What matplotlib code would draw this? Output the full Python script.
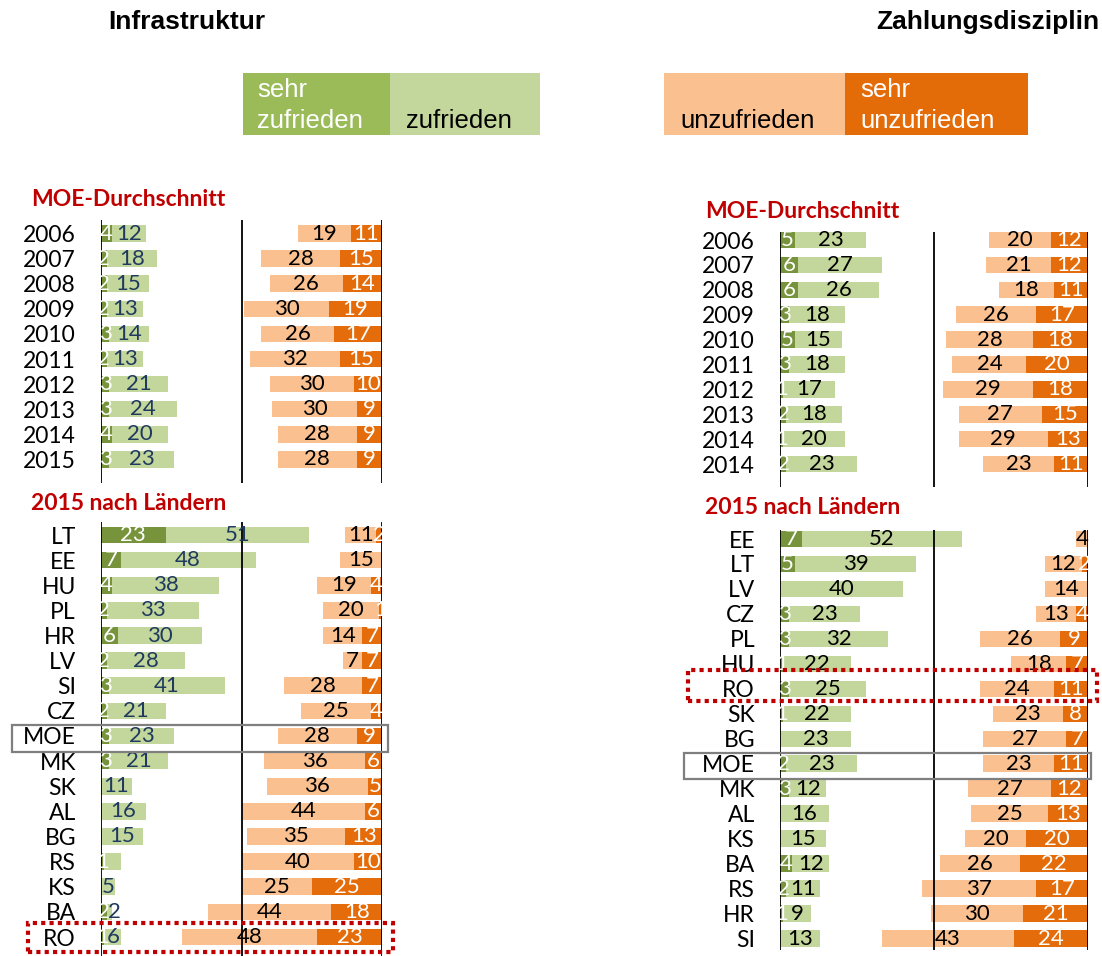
import matplotlib
matplotlib.use("Agg")
import matplotlib.pyplot as plt
from matplotlib.patches import Rectangle

W, H = 1102, 956
DPI = 100

# ---------------- data ----------------
years_l = ["2006", "2007", "2008", "2009", "2010", "2011", "2012", "2013", "2014", "2015"]
infra_avg_sz = [4, 2, 2, 2, 3, 2, 3, 3, 4, 3]
infra_avg_z = [12, 18, 15, 13, 14, 13, 21, 24, 20, 23]
infra_avg_u = [19, 28, 26, 30, 26, 32, 30, 30, 28, 28]
infra_avg_su = [11, 15, 14, 19, 17, 15, 10, 9, 9, 9]

countries_l = ["LT", "EE", "HU", "PL", "HR", "LV", "SI", "CZ", "MOE", "MK", "SK", "AL",
               "BG", "RS", "KS", "BA", "RO"]
infra_c_sz = [23, 7, 4, 2, 6, 2, 3, 2, 3, 3, 0, 0, 0, 1, 0, 2, 1]
infra_c_z = [51, 48, 38, 33, 30, 28, 41, 21, 23, 21, 11, 16, 15, 6, 5, 2, 6]
infra_c_u = [11, 15, 19, 20, 14, 7, 28, 25, 28, 36, 36, 44, 35, 40, 25, 44, 48]
infra_c_su = [2, 0, 4, 1, 7, 7, 7, 4, 9, 6, 5, 6, 13, 10, 25, 18, 23]
infra_c_hidden_z = ["RS"]  # label not shown in the reference

years_r = ["2006", "2007", "2008", "2009", "2010", "2011", "2012", "2013", "2014", "2014"]
pay_avg_sz = [5, 6, 6, 3, 5, 3, 1, 2, 1, 2]
pay_avg_z = [23, 27, 26, 18, 15, 18, 17, 18, 20, 23]
pay_avg_u = [20, 21, 18, 26, 28, 24, 29, 27, 29, 23]
pay_avg_su = [12, 12, 11, 17, 18, 20, 18, 15, 13, 11]

countries_r = ["EE", "LT", "LV", "CZ", "PL", "HU", "RO", "SK", "BG", "MOE", "MK", "AL",
               "KS", "BA", "RS", "HR", "SI"]
pay_c_sz = [7, 5, 0, 3, 3, 1, 3, 1, 0, 2, 3, 0, 0, 4, 2, 1, 0]
pay_c_z = [52, 39, 40, 23, 32, 22, 25, 22, 23, 23, 12, 16, 15, 12, 11, 9, 13]
pay_c_u = [4, 12, 14, 13, 26, 18, 24, 23, 27, 23, 27, 25, 20, 26, 37, 30, 43]
pay_c_su = [0, 2, 0, 4, 9, 7, 11, 8, 7, 11, 12, 13, 20, 22, 17, 21, 24]

# ---------------- style ----------------
C_SZ = "#77933C"
C_Z = "#C3D69B"
C_U = "#FAC090"
C_SU = "#E46C0A"
C_LEG_SZ = "#9BBB59"
C_LEG_SU = "#E36C09"
RED = "#C00000"
NAVY = "#1F3A5F"
NUMFONT = "Lato"
ARIAL = "Liberation Sans"
NUMSIZE = 16
ROWSIZE = 16.5

fig = plt.figure(figsize=(W / DPI, H / DPI), dpi=DPI)


def fx(x):
    return x / W


def fy(y):
    return 1 - y / H


def panel(x0, x1, y0, y1, row0, step, labels, sz, z, u, su, zcolor, hidden_z=()):
    ax = fig.add_axes([fx(x0), fy(y1), (x1 - x0) / W, (y1 - y0) / H])
    n = len(labels)
    rows = list(range(n))
    ax.set_xlim(0, 100)
    top = (y0 - row0) / step
    bot = (y1 - row0) / step
    ax.set_ylim(bot, top)
    bh = 0.66
    ax.barh(rows, sz, left=0, height=bh, color=C_SZ, zorder=2)
    ax.barh(rows, z, left=sz, height=bh, color=C_Z, zorder=2)
    left_su = [100 - v for v in su]
    left_u = [100 - a - b for a, b in zip(su, u)]
    ax.barh(rows, u, left=left_u, height=bh, color=C_U, zorder=2)
    ax.barh(rows, su, left=left_su, height=bh, color=C_SU, zorder=2)
    for xv in (0, 50, 100):
        ax.axvline(xv, color="black", lw=1.3, zorder=3)
    for i in rows:
        if sz[i] > 0:
            ax.text(sz[i] / 2, i, str(sz[i]), ha="center", va="center", color="white",
                    fontsize=NUMSIZE, family=NUMFONT, zorder=4)
        if z[i] > 0 and labels[i] not in hidden_z:
            zx = sz[i] + z[i] / 2
            if sz[i] > 0:
                zx = max(zx, sz[i] / 2 + 3.8)
            ax.text(zx, i, str(z[i]), ha="center", va="center", color=zcolor,
                    fontsize=NUMSIZE, family=NUMFONT, zorder=4)
        if u[i] > 0:
            ax.text(left_u[i] + u[i] / 2, i, str(u[i]), ha="center", va="center", color="black",
                    fontsize=NUMSIZE, family=NUMFONT, zorder=4)
        if su[i] > 0:
            ax.text(100 - su[i] / 2, i, str(su[i]), ha="center", va="center", color="white",
                    fontsize=NUMSIZE, family=NUMFONT, zorder=4)
    ax.set_yticks(rows)
    ax.set_yticklabels(labels, fontsize=ROWSIZE, family=NUMFONT)
    ax.tick_params(axis="y", length=0, pad=18)
    ax.set_xticks([])
    for s in ax.spines.values():
        s.set_visible(False)
    ax.patch.set_alpha(0)
    return ax


panel(101, 382, 220, 483, 233.5, 25.1, years_l, infra_avg_sz, infra_avg_z,
      infra_avg_u, infra_avg_su, NAVY)
panel(101, 382, 522, 956, 535, 25.125, countries_l, infra_c_sz, infra_c_z,
      infra_c_u, infra_c_su, NAVY, infra_c_hidden_z)
panel(780, 1088, 232, 487, 240, 24.9, years_r, pay_avg_sz, pay_avg_z,
      pay_avg_u, pay_avg_su, "black")
panel(780, 1088, 530, 950, 539, 24.97, countries_r, pay_c_sz, pay_c_z,
      pay_c_u, pay_c_su, "black")

# ---------------- titles & headers ----------------
fig.text(fx(108), fy(22), "Infrastruktur", ha="left", va="center", fontsize=19,
         fontweight="bold", family=ARIAL)
fig.text(fx(1099), fy(22), "Zahlungsdisziplin", ha="right", va="center", fontsize=19,
         fontweight="bold", family=ARIAL)
for x, y, t in [(31, 199, "MOE-Durchschnitt"), (31, 503, "2015 nach Ländern"),
                (705, 212, "MOE-Durchschnitt"), (705, 508, "2015 nach Ländern")]:
    fig.text(fx(x), fy(y), t, ha="left", va="center", fontsize=16.5, fontweight="bold",
             color=RED, family=NUMFONT)

# ---------------- legend boxes ----------------
def box(x0, x1, y0, y1, color):
    fig.patches.append(Rectangle((fx(x0), fy(y1)), (x1 - x0) / W, (y1 - y0) / H,
                                 transform=fig.transFigure, facecolor=color,
                                 edgecolor="none", zorder=1))


box(243, 390, 73, 135, C_LEG_SZ)
box(390, 540, 73, 135, C_Z)
box(664, 845, 73, 135, C_U)
box(845, 1028, 73, 135, C_LEG_SU)
LEG = 18.5
fig.text(fx(257), fy(97), "sehr", ha="left", va="baseline", fontsize=LEG, color="white", family=ARIAL)
fig.text(fx(257), fy(128), "zufrieden", ha="left", va="baseline", fontsize=LEG, color="white", family=ARIAL)
fig.text(fx(406), fy(128), "zufrieden", ha="left", va="baseline", fontsize=LEG, color="black", family=ARIAL)
fig.text(fx(680), fy(128), "unzufrieden", ha="left", va="baseline", fontsize=LEG, color="black", family=ARIAL)
fig.text(fx(860), fy(97), "sehr", ha="left", va="baseline", fontsize=LEG, color="white", family=ARIAL)
fig.text(fx(860), fy(128), "unzufrieden", ha="left", va="baseline", fontsize=LEG, color="white", family=ARIAL)

# ---------------- highlight frames ----------------
def frame(x0, y0, x1, y1, color, lw, ls):
    fig.patches.append(Rectangle((fx(x0), fy(y1)), (x1 - x0) / W, (y1 - y0) / H,
                                 transform=fig.transFigure, facecolor="none",
                                 edgecolor=color, lw=lw, linestyle=ls, zorder=10))


frame(12, 725, 388, 752, "#7F7F7F", 1.6, "-")
frame(684, 753, 1091, 779, "#7F7F7F", 1.6, "-")
frame(28, 923, 393, 952, RED, 3, (0, (1, 1)))
frame(688, 670, 1097, 701, RED, 3, (0, (1, 1)))

fig.savefig("out.png", dpi=DPI)
